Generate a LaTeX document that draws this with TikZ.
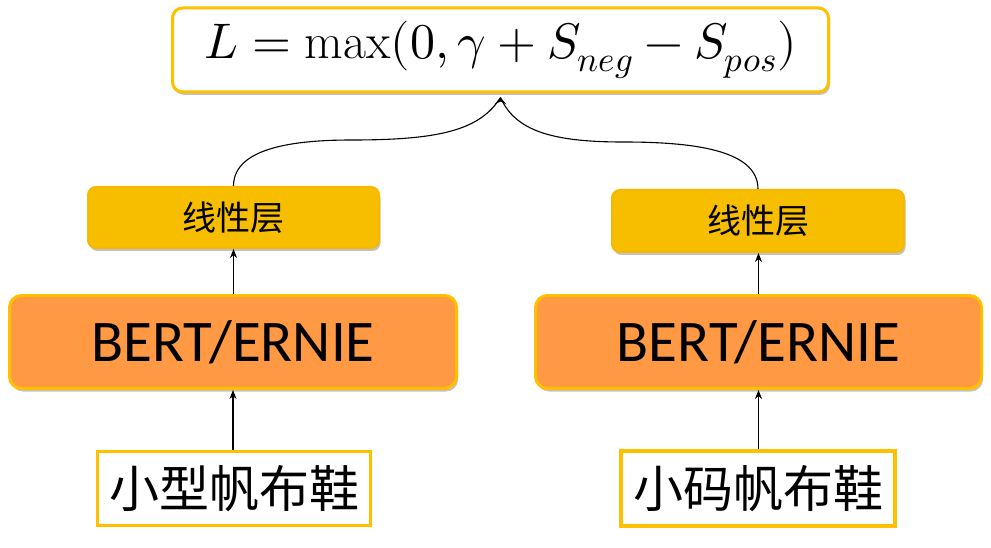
\documentclass[tikz,border=0pt]{standalone}
\usepackage{fontspec}
\usepackage{unicode-math}
\setmainfont{Carlito}
\setmathfont{Latin Modern Math}
\newfontfamily\cjk{Noto Sans CJK SC}
\newfontfamily\lmrom{Latin Modern Roman}
\usetikzlibrary{shadows,arrows.meta}
\definecolor{gold}{RGB}{255,192,0}
\definecolor{linfill}{RGB}{247,190,0}
\definecolor{bertfill}{RGB}{255,153,68}
\tikzset{
  shad/.style={drop shadow={opacity=0.4,shadow xshift=1.5pt,shadow yshift=-3pt,fill=black!60}},
  topbox/.style={draw=gold,line width=3pt,fill=white,rounded corners=10pt,shad,inner sep=0pt},
  linbox/.style={draw=linfill!90!orange,line width=2pt,fill=linfill,rounded corners=8pt,shad,inner sep=0pt,font=\cjk\fontsize{34}{40}\selectfont},
  bertbox/.style={draw=gold,line width=3pt,fill=bertfill,rounded corners=12pt,shad,inner sep=0pt,font=\fontsize{59}{68}\selectfont},
  inbox/.style={draw=gold,line width=3pt,fill=white,inner sep=0pt,font=\cjk\fontsize{50}{60}\selectfont},
  conn/.style={draw=black,line width=1.1pt,-{Stealth[length=9pt,width=7pt]}},
  curve/.style={draw=black,line width=1.1pt}
}
\begin{document}
\begin{tikzpicture}[x=1pt,y=-1pt]
\useasboundingbox (0,0) rectangle (991,548);
\node[topbox,minimum width=656pt,minimum height=84pt] (loss) at (500.5,50)
  {\fontsize{50}{60}\selectfont$L=\mbox{\lmrom max}(0,\gamma+S_{neg}-S_{pos})$};
\node[linbox,minimum width=291pt,minimum height=61pt] (lin1) at (233.5,217.5) {线性层};
\node[linbox,minimum width=292pt,minimum height=62pt] (lin2) at (758,221) {线性层};
\node[bertbox,minimum width=447pt,minimum height=93pt] (bert1) at (233,342) {BERT/ERNIE};
\node[bertbox,minimum width=446pt,minimum height=93pt] (bert2) at (758.5,342) {BERT/ERNIE};
\node[inbox,minimum width=273pt,minimum height=74pt] (in1) at (234,488.5) {小型帆布鞋};
\node[inbox,line width=4pt,minimum width=274pt,minimum height=75pt] (in2) at (758,488.5) {小码帆布鞋};
\coordinate (tip) at ([yshift=-4pt]loss.south);
\draw[conn] (in1.north -| bert1.south) -- (bert1.south);
\draw[conn] (in2.north -| bert2.south) -- (bert2.south);
\draw[conn] (bert1.north -| lin1.south) -- (lin1.south);
\draw[conn] (bert2.north) -- (bert2.north |- lin2.south);
\draw[curve] (lin1.north) .. controls +(0,-40) and (300,140) .. (352,140) .. controls (440,140) and (480,130) .. (tip);
\draw[curve] (lin2.north) .. controls +(0,-40) and (690,142) .. (623,142) .. controls (550,142) and (515,130) .. (tip);
\fill (tip) -- ++(-6,7) -- ++(6,-3) -- ++(6,3) -- cycle;
\end{tikzpicture}
\end{document}
